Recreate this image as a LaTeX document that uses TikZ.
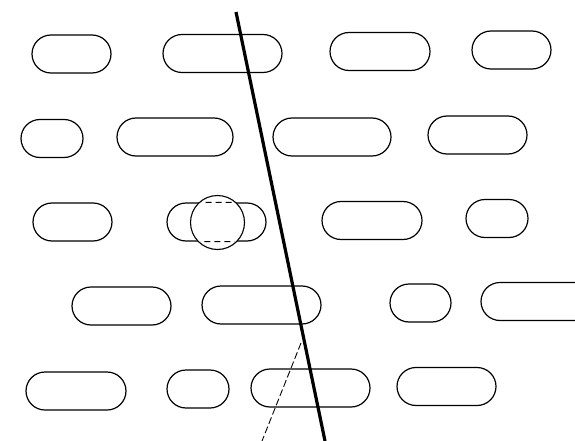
\documentclass[tikz,border=0pt]{standalone}
\begin{document}
\begin{tikzpicture}[x=1pt,y=-1pt,
  stad/.style={draw, line width=1.2pt, rounded corners=19pt, inner sep=0pt, minimum height=38pt},
  lens/.style={draw, circle, line width=1.1pt, fill=white, inner sep=0pt, minimum size=54pt},
  rod/.style={line width=3.2pt},
  ray/.style={line width=0.9pt, dash pattern=on 7pt off 3pt}]
\useasboundingbox (0,0) rectangle (575,441);
\clip (0,0) rectangle (575,441);
% row 1
\node[stad, minimum width=79pt] (a1) at (71.5,54) {};
\node[stad, minimum width=119pt] (a2) at (222.5,53.5) {};
\node[stad, minimum width=100pt] (a3) at (380,51.5) {};
\node[stad, minimum width=79pt] (a4) at (511.5,50) {};
% row 2
\node[stad, minimum width=62pt] (b1) at (52,138.5) {};
\node[stad, minimum width=116pt] (b2) at (175,137) {};
\node[stad, minimum width=118pt] (b3) at (332,137) {};
\node[stad, minimum width=99pt] (b4) at (477.5,135) {};
% row 3
\node[stad, minimum width=79pt] (c1) at (72.5,222) {};
\node[stad, minimum width=99pt] (c2) at (216.5,222) {};
\node[stad, minimum width=100pt] (c3) at (372,220.5) {};
\node[stad, minimum width=62pt] (c4) at (497,218.5) {};
% row 4
\node[stad, minimum width=99pt] (d1) at (121.5,306) {};
\node[stad, minimum width=119pt] (d2) at (261.5,305) {};
\node[stad, minimum width=61pt] (d3) at (420.5,303) {};
\node[stad, minimum width=114pt] (d4) at (538,301.5) {};
% row 5
\node[stad, minimum width=100pt] (e1) at (76,391) {};
\node[stad, minimum width=62pt] (e2) at (198,389) {};
\node[stad, minimum width=119pt] (e3) at (310.5,388) {};
\node[stad, minimum width=99pt] (e4) at (446.5,386.5) {};
% lens over c2
\node[lens] (k) at (217.5,222.5) {};
\begin{scope}
  \clip (k.center) circle (25.5pt);
  \draw[line width=1.1pt, dash pattern=on 6pt off 4pt, rounded corners=19pt] (c2.north west) rectangle (c2.south east);
\end{scope}
% lines
\coordinate (t1) at (236,12);
\coordinate (t2) at (325,441);
\coordinate (s1) at (301,343);
\coordinate (s2) at (262,441);
\draw[ray] (s1) -- (s2);
\draw[rod] (t1) -- (t2);
\end{tikzpicture}
\end{document}
